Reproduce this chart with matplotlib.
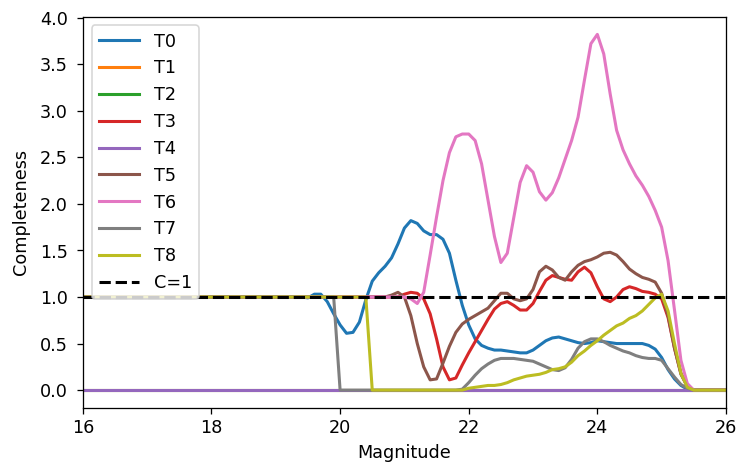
import numpy as np
import matplotlib
matplotlib.use('Agg')
import matplotlib.pyplot as plt

# magnitude grid (0.1 mag bins)
mags = np.round(np.arange(16.0, 26.01, 0.1), 1)

# completeness per type
t0 = ([1.0] * 35 +
      [0.99, 1.03, 1.03, 0.95, 0.82, 0.70, 0.61, 0.62, 0.73, 0.97,
       1.17, 1.26, 1.33, 1.42, 1.57, 1.74, 1.82, 1.79, 1.71, 1.67,
       1.67, 1.62, 1.47, 1.18, 0.91, 0.70, 0.55, 0.48, 0.45, 0.43,
       0.43, 0.42, 0.41, 0.40, 0.40, 0.43, 0.48, 0.53, 0.56, 0.57,
       0.55, 0.53, 0.51, 0.50, 0.51, 0.53, 0.52, 0.51, 0.50, 0.50,
       0.50, 0.50, 0.50, 0.48, 0.44, 0.35, 0.22, 0.12, 0.05, 0.01] +
      [0.0] * 6)
t1 = [0.0] * 101
t2 = [0.0] * 101
t3 = ([1.0] * 50 +
      [1.03, 1.05, 1.04, 0.98, 0.82, 0.55, 0.25, 0.11, 0.13, 0.27,
       0.40, 0.52, 0.64, 0.76, 0.87, 0.93, 0.95, 0.91, 0.86, 0.86,
       0.93, 1.06, 1.18, 1.23, 1.21, 1.19, 1.18, 1.27, 1.32, 1.26,
       1.11, 0.98, 0.95, 1.00, 1.08, 1.11, 1.09, 1.06, 1.05, 1.03,
       0.98, 0.78, 0.45, 0.18, 0.04] +
      [0.0] * 6)
t4 = [0.0] * 101
t5 = ([1.0] * 48 +
      [1.02, 1.05,
       1.00, 0.80, 0.50, 0.25, 0.11, 0.12, 0.29, 0.47, 0.62, 0.71,
       0.76, 0.80, 0.84, 0.88, 0.96, 1.04, 1.04, 0.98, 0.96, 0.98,
       1.08, 1.27, 1.33, 1.29, 1.21, 1.18, 1.27, 1.34, 1.38, 1.40,
       1.43, 1.47, 1.48, 1.45, 1.38, 1.30, 1.25, 1.21, 1.19, 1.16,
       1.04, 0.80, 0.45, 0.17, 0.04] +
      [0.0] * 6)
t6 = ([1.0] * 51 +
      [0.98, 0.93, 1.05, 1.45,
       1.86, 2.25, 2.55, 2.72, 2.75, 2.75, 2.68, 2.43, 2.04, 1.65,
       1.37, 1.47, 1.85, 2.23, 2.41, 2.34, 2.13, 2.04, 2.12, 2.28,
       2.48, 2.68, 2.93, 3.33, 3.72, 3.82, 3.61, 3.18, 2.79, 2.58,
       2.43, 2.30, 2.20, 2.08, 1.93, 1.75, 1.39, 0.86, 0.32, 0.07] +
      [0.0] * 6)
t7 = ([1.0] * 40 + [0.0] * 19 +
      [0.01,
       0.08, 0.16, 0.23, 0.28, 0.32, 0.34, 0.34, 0.34, 0.33, 0.32,
       0.31, 0.28, 0.25, 0.22, 0.21, 0.24, 0.33, 0.45, 0.52, 0.55,
       0.55, 0.52, 0.48, 0.45, 0.42, 0.40, 0.37, 0.35, 0.34, 0.34,
       0.32, 0.23, 0.14, 0.06, 0.02] +
      [0.0] * 6)
t8 = ([1.0] * 45 + [0.0] * 14 +
      [0.00,
       0.02, 0.03, 0.04, 0.05, 0.05, 0.06, 0.08, 0.11, 0.13, 0.15,
       0.16, 0.17, 0.19, 0.22, 0.23, 0.25, 0.30, 0.37, 0.42, 0.48,
       0.53, 0.59, 0.64, 0.69, 0.72, 0.77, 0.80, 0.85, 0.92, 0.99,
       1.03, 0.85, 0.50, 0.18, 0.03] +
      [0.0] * 6)

series = [t0, t1, t2, t3, t4, t5, t6, t7, t8]
labels = ['T%d' % i for i in range(len(series))]

plt.rcParams['font.size'] = 11

# default 6.4x4 figure rendered at ~115.6 dpi -> 740x463 px
DPI = 740 / 6.4
fig = plt.figure(figsize=(6.4, 4.005), dpi=DPI)
ax = fig.add_axes([0.112, 0.119, 0.869, 0.845])

for lab, vals in zip(labels, series):
    ax.plot(mags, vals, lw=1.9, label=lab)
ax.axhline(1.0, color='k', ls='--', lw=1.9, label='C=1')

ax.set_xlim(16, 26)
ax.tick_params(axis='y', pad=6)
ax.set_xlabel('Magnitude')
ax.set_ylabel('Completeness', labelpad=6)
ax.legend(loc='upper left', handlelength=2.3)

fig.savefig('out.png', dpi=DPI)
